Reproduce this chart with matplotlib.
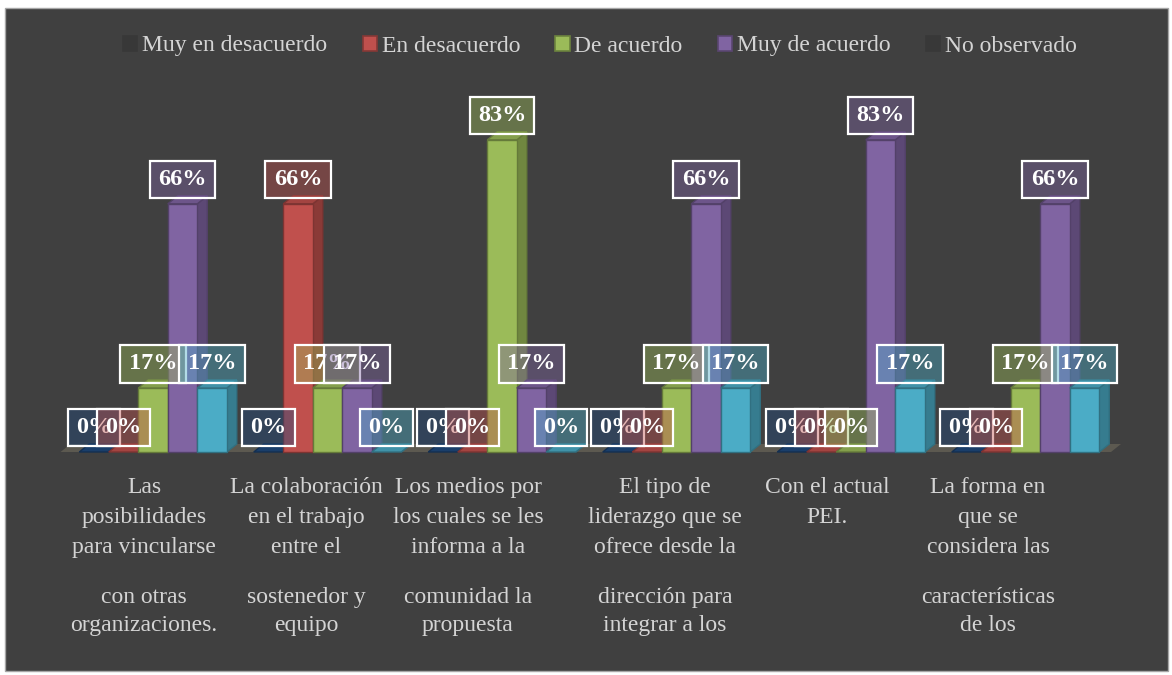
import matplotlib
matplotlib.use("Agg")
import matplotlib.pyplot as plt
from matplotlib.colors import to_rgb
from matplotlib.patches import Patch, Polygon, Rectangle

W, H = 1172, 675

series = ["Muy en desacuerdo", "En desacuerdo", "De acuerdo", "Muy de acuerdo", "No observado"]
muy_en_desacuerdo = [0, 0, 0, 0, 0, 0]
en_desacuerdo = [0, 66, 0, 0, 0, 0]
de_acuerdo = [17, 17, 83, 17, 0, 17]
muy_de_acuerdo = [66, 17, 17, 66, 83, 66]
no_observado = [17, 0, 0, 17, 17, 17]
values = [muy_en_desacuerdo, en_desacuerdo, de_acuerdo, muy_de_acuerdo, no_observado]

category_lines = [
    ["Las", "posibilidades", "para vincularse", "con otras", "organizaciones."],
    ["La colaboración", "en el trabajo", "entre el", "sostenedor y", "equipo"],
    ["Los medios por", "los cuales se les", "informa a la", "comunidad la", "propuesta"],
    ["El tipo de", "liderazgo que se", "ofrece desde la", "dirección para", "integrar a los"],
    ["Con el actual", "PEI.", "", "", ""],
    ["La forma en", "que se", "considera las", "características", "de los"],
]

colors = ["#1F497D", "#C0504D", "#9BBB59", "#8064A2", "#4BACC6"]
legend_colors = ["#383838", "#C0504D", "#9BBB59", "#8064A2", "#383838"]
BG = "#404040"
TXT = "#d4d4d4"


def shade(c, f):
    r, g, b = to_rgb(c)
    return (r * f, g * f, b * f)


plt.rcParams["font.family"] = ["Liberation Serif", "DejaVu Serif"]

fig = plt.figure(figsize=(W / 100, H / 100), dpi=100, facecolor="white")
fig.patches.append(Rectangle((5 / W, 4 / H), 1163 / W, 663 / H, transform=fig.transFigure,
                             facecolor=BG, edgecolor="#a6a6a6", linewidth=1, zorder=-10))

# axes placed so that value 0 sits at y=452 px and group 0 centre at x=153 px
ax = fig.add_axes([40 / W, 1 - 470 / H, 1110 / W, 395 / H])
ax.set_xlim((40 - 153) / 174.5, (1150 - 153) / 174.5)
ax.set_ylim(-18 / 3.76, (452 - 75) / 3.76)
ax.set_axis_off()

bw = 29.5 / 174.5
dx = 10 / 174.5
dy = 8 / 3.76

# floor
fx0, fx1 = -0.53, 5.49
ax.add_patch(Polygon([(fx0, 0), (fx1, 0), (fx1 + dx, dy), (fx0 + dx, dy)],
                     closed=True, facecolor="#5c5950", edgecolor="none", zorder=1))

z = 2
for i in range(len(category_lines)):
    for j, vals in enumerate(values):
        v = vals[i]
        x0 = i + (j - 2.5) * bw
        x1 = x0 + bw
        c = colors[j]
        ec = shade(c, 0.65)
        side = Polygon([(x1, 0), (x1 + dx, dy), (x1 + dx, v + dy), (x1, v)], closed=True,
                       facecolor=shade(c, 0.72), edgecolor=ec, linewidth=1, zorder=z)
        top = Polygon([(x0, v), (x1, v), (x1 + dx, v + dy), (x0 + dx, v + dy)], closed=True,
                      facecolor=shade(c, 0.85), edgecolor=ec, linewidth=1, zorder=z)
        ax.add_patch(side)
        ax.add_patch(top)
        if v > 0:
            ax.bar(x0, v, width=bw, align="edge", color=c, edgecolor=ec, linewidth=1, zorder=z + 0.5)
        z += 1

for i in range(len(category_lines)):
    for j, vals in enumerate(values):
        v = vals[i]
        xc = i + (j - 2) * bw
        r, g, b = to_rgb(colors[j])
        ax.annotate(f"{v}%", xy=(xc, v), xytext=(0, 17.5), textcoords="offset points",
                    ha="center", va="center", fontsize=17.5, fontweight="bold", color="white",
                    zorder=100 + j,
                    bbox=dict(boxstyle="square,pad=0.34", facecolor=(r, g, b, 0.42),
                              edgecolor="white", linewidth=1.6))

# category labels
text_x = [144, 306, 468, 665, 827, 988]
row_y = [493, 523, 553, 603, 631]
for cx, lines in zip(text_x, category_lines):
    for ry, line in zip(row_y, lines):
        if line:
            fig.text(cx / W, 1 - ry / H, line, ha="center", va="baseline", fontsize=17, color=TXT)

handles = [Patch(facecolor=lc, edgecolor=shade(lc, 0.7) if lc != "#383838" else "#383838", linewidth=1.2)
           for lc in legend_colors]
fig.legend(handles, series, loc="center", bbox_to_anchor=(600 / W, 1 - 46 / H), ncol=5,
           frameon=False, fontsize=17, handlelength=0.6, handleheight=0.6, handletextpad=0.2,
           columnspacing=1.5, labelcolor=TXT)

fig.savefig("out.png", dpi=100, facecolor="white")
